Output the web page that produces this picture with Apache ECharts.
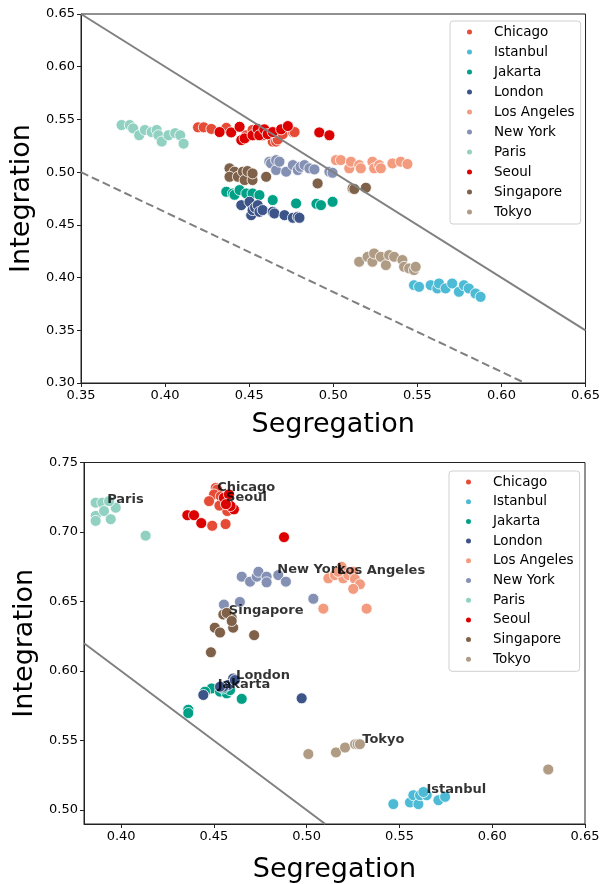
<html>
<head>
<meta charset="utf-8">
<title>Segregation vs Integration</title>
<style>
  html, body, #chart { margin: 0; padding: 0; width: 603px; height: 884px; background: #fff; }
</style>
<script src="https://cdn.jsdelivr.net/npm/echarts/dist/echarts.min.js"></script>
</head>
<body>
<div id="chart"></div>
<script>
// cities and colours (legend order)
var cities = ['Chicago', 'Istanbul', 'Jakarta', 'London', 'Los Angeles', 'New York', 'Paris', 'Seoul', 'Singapore', 'Tokyo'];
var colors = ['#E64B35', '#4DBBD5', '#00A087', '#3C5488', '#F39B7F', '#8491B4', '#91D1C2', '#DC0000', '#7E6148', '#B09C85'];

// top panel: [segregation, integration]
var chicagoTop = [[0.4196,0.5425],[0.423,0.5425],[0.4275,0.541],[0.4364,0.542],[0.4483,0.535],[0.452,0.540],[0.457,0.537],[0.458,0.535],[0.464,0.529],[0.466,0.529],[0.467,0.531],[0.470,0.536],[0.476,0.538],[0.477,0.538]];
var istanbulTop = [[0.548,0.3928],[0.551,0.3912],[0.5579,0.3928],[0.5619,0.3897],[0.5629,0.3944],[0.5668,0.3897],[0.5707,0.3944],[0.5747,0.3865],[0.5777,0.3928],[0.5806,0.3897],[0.5846,0.3849],[0.5876,0.3817]];
var jakartaTop = [[0.4364,0.4814],[0.4403,0.4798],[0.4413,0.4785],[0.4443,0.483],[0.4483,0.4798],[0.452,0.4798],[0.4561,0.4782],[0.464,0.4735],[0.4779,0.4703],[0.4900,0.4700],[0.4927,0.4687],[0.4996,0.4719]];
var londonTop = [[0.4453,0.4687],[0.4502,0.4719],[0.4512,0.4592],[0.452,0.464],[0.4535,0.4665],[0.4551,0.4687],[0.4561,0.4624],[0.458,0.464],[0.464,0.4624],[0.465,0.4608],[0.471,0.4592],[0.476,0.4567],[0.4789,0.4576],[0.4799,0.4567]];
var laTop = [[0.5016,0.5114],[0.5045,0.5114],[0.5095,0.5036],[0.5105,0.5099],[0.5154,0.5067],[0.5164,0.5036],[0.5233,0.5099],[0.5243,0.5036],[0.5273,0.5067],[0.5283,0.5036],[0.5352,0.5083],[0.5401,0.5099],[0.5441,0.5077]];
var newYorkTop = [[0.462,0.5099],[0.463,0.5083],[0.466,0.502],[0.466,0.5114],[0.468,0.5099],[0.472,0.5004],[0.476,0.5067],[0.4789,0.502],[0.4805,0.5050],[0.4829,0.5067],[0.4858,0.5036],[0.4888,0.5026],[0.4977,0.5004],[0.4996,0.4994]];
var parisTop = [[0.3741,0.5447],[0.379,0.5447],[0.381,0.5415],[0.3846,0.535],[0.388,0.540],[0.392,0.538],[0.395,0.540],[0.396,0.535],[0.398,0.529],[0.402,0.535],[0.406,0.537],[0.409,0.535],[0.411,0.527]];
var seoulTop = [[0.4324,0.538],[0.4393,0.5377],[0.4443,0.543],[0.4453,0.5304],[0.4473,0.532],[0.452,0.535],[0.455,0.541],[0.456,0.535],[0.459,0.5406],[0.461,0.536],[0.464,0.538],[0.469,0.5406],[0.473,0.5437],[0.4917,0.5377],[0.4977,0.535]];
var singaporeTop = [[0.4383,0.5036],[0.4413,0.5004],[0.4383,0.4956],[0.4433,0.4956],[0.4463,0.5004],[0.4473,0.4925],[0.4490,0.5010],[0.452,0.4925],[0.452,0.4988],[0.4601,0.4956],[0.4907,0.4893],[0.5115,0.4846],[0.5125,0.4840],[0.5194,0.4852]];
var tokyoTop = [[0.5154,0.415],[0.5204,0.4197],[0.5233,0.415],[0.5243,0.4229],[0.5283,0.4197],[0.5313,0.4118],[0.5332,0.4213],[0.5362,0.4197],[0.5411,0.4166],[0.5421,0.4102],[0.5451,0.4087],[0.548,0.4071],[0.549,0.4102]];

// bottom panel
var chicagoBot = [[0.451,0.7317],[0.4518,0.7305],[0.4501,0.727],[0.4474,0.7222],[0.4554,0.7211],[0.4537,0.7257],[0.4572,0.7151],[0.4491,0.7045],[0.4563,0.7057],[0.4530,0.7190]];
var istanbulBot = [[0.5467,0.5043],[0.5557,0.5055],[0.5575,0.5107],[0.5602,0.5043],[0.5611,0.5107],[0.5647,0.5107],[0.571,0.5071],[0.5746,0.5095],[0.5629,0.513]];
var jakartaBot = [[0.4362,0.5722],[0.4362,0.5698],[0.4488,0.5875],[0.4452,0.5852],[0.4533,0.5852],[0.4569,0.584],[0.4587,0.5863],[0.465,0.58],[0.4551,0.5875]];
var londonBot = [[0.4604,0.5946],[0.4577,0.59],[0.4551,0.5887],[0.4443,0.5828],[0.4973,0.5804],[0.4613,0.5935],[0.4533,0.5887]];
var laBot = [[0.5117,0.6667],[0.5152,0.669],[0.5188,0.675],[0.5197,0.6667],[0.5224,0.669],[0.5251,0.6714],[0.526,0.6662],[0.5287,0.6624],[0.5251,0.6591],[0.509,0.6449],[0.5323,0.6449],[0.517,0.6714]];
var newYorkBot = [[0.465,0.6679],[0.4695,0.6643],[0.4731,0.6679],[0.474,0.6714],[0.4784,0.6679],[0.4784,0.6638],[0.4847,0.669],[0.4888,0.6643],[0.5036,0.652],[0.4554,0.6478],[0.464,0.6497]];
var parisBot = [[0.3863,0.7211],[0.3863,0.7116],[0.3863,0.708],[0.3899,0.7211],[0.3908,0.7151],[0.3944,0.7092],[0.3971,0.7175],[0.3935,0.7222],[0.4132,0.6974]];
var seoulBot = [[0.4608,0.7163],[0.4572,0.7222],[0.459,0.7187],[0.4357,0.7121],[0.4393,0.7121],[0.4432,0.7064],[0.4878,0.6963],[0.4554,0.7246],[0.4581,0.727],[0.4565,0.7200]];
var singaporeBot = [[0.4551,0.6407],[0.4587,0.6395],[0.4596,0.6383],[0.4569,0.6418],[0.4505,0.6312],[0.4533,0.6277],[0.4604,0.6312],[0.4717,0.6258],[0.4484,0.6135],[0.4596,0.636]];
var tokyoBot = [[0.5009,0.5403],[0.5158,0.5415],[0.5207,0.545],[0.5261,0.5474],[0.5275,0.5474],[0.5287,0.5474],[0.6302,0.5292]];

// city name labels in bottom panel (left edge x, centre y)
var labelX = [0.4515, 0.5643, 0.4518, 0.4617, 0.5162, 0.4839, 0.3922, 0.4563, 0.4578, 0.5297];
var labelY = [0.7322, 0.5150, 0.5906, 0.5965, 0.6721, 0.6726, 0.7236, 0.7248, 0.6437, 0.5504];

// reference lines
var solidTop = [[0.35, 0.65], [0.65, 0.35]];
var dashedTop = [[0.35, 0.50], [0.614, 0.30]];
var solidBot = [[0.38, 0.62], [0.51, 0.49]];

var ticksBotX = [0.40, 0.45, 0.50, 0.55, 0.60, 0.65];
var ticksBotY = [0.50, 0.55, 0.60, 0.65, 0.70, 0.75];

var topSets = [chicagoTop, istanbulTop, jakartaTop, londonTop, laTop, newYorkTop, parisTop, seoulTop, singaporeTop, tokyoTop];
var botSets = [chicagoBot, istanbulBot, jakartaBot, londonBot, laBot, newYorkBot, parisBot, seoulBot, singaporeBot, tokyoBot];

var FONT = 'DejaVu Sans';
var fmt = function (v) { return v.toFixed(2); };

function axisBase(name, gap, isY) {
    return {
        type: 'value',
        name: name,
        nameLocation: 'middle',
        nameGap: gap,
        nameRotate: isY ? 90 : 0,
        nameTextStyle: { fontFamily: FONT, fontSize: 27, color: '#000' },
        axisLine: { show: true, onZero: false, lineStyle: { color: '#222', width: 1 } },
        axisTick: { show: true, length: 4, lineStyle: { color: '#222', width: 1 } },
        axisLabel: { fontFamily: FONT, fontSize: 13, color: '#000', margin: 6, formatter: fmt },
        splitLine: { show: false }
    };
}

var xTop = axisBase('Segregation', 28, false);
xTop.gridIndex = 0; xTop.min = 0.35; xTop.max = 0.65; xTop.interval = 0.05;
var yTop = axisBase('Integration', 42, true);
yTop.gridIndex = 0; yTop.min = 0.30; yTop.max = 0.65; yTop.interval = 0.05;

var xBot = axisBase('Segregation', 32, false);
xBot.gridIndex = 1; xBot.min = 0.38; xBot.max = 0.65;
xBot.axisTick.customValues = ticksBotX; xBot.axisLabel.customValues = ticksBotX;
var yBot = axisBase('Integration', 42, true);
yBot.gridIndex = 1; yBot.min = 0.49; yBot.max = 0.75;
yBot.axisTick.customValues = ticksBotY; yBot.axisLabel.customValues = ticksBotY;

function legendAt(left, top, gap) {
    return {
        orient: 'vertical',
        left: left,
        top: top,
        data: cities,
        icon: 'circle',
        itemWidth: 7,
        itemHeight: 7,
        itemGap: gap,
        padding: [4, 6, 5, 15],
        borderColor: '#d0d0d0',
        borderWidth: 1,
        borderRadius: 3,
        backgroundColor: 'rgba(255,255,255,0.8)',
        textStyle: { fontFamily: FONT, fontSize: 13.5, color: '#000', lineHeight: 14, padding: [0, 0, 0, 16] }
    };
}

var series = [];
cities.forEach(function (c, i) {
    [topSets[i], botSets[i]].forEach(function (d, g) {
        series.push({
            name: c,
            type: 'scatter',
            xAxisIndex: g,
            yAxisIndex: g,
            data: d,
            symbolSize: 11,
            itemStyle: { color: colors[i], borderColor: '#fff', borderWidth: 0.8, opacity: 1 }
        });
    });
});

function refLine(d, g, dashed) {
    return {
        type: 'line', xAxisIndex: g, yAxisIndex: g, data: d, symbol: 'none', z: 5,
        silent: true, clip: true,
        lineStyle: { color: '#808080', width: 2, type: dashed ? [8, 4] : 'solid' }
    };
}
series.push(refLine(solidTop, 0, false));
series.push(refLine(dashedTop, 0, true));
series.push(refLine(solidBot, 1, false));

// bold city names, anchored at their data positions
series.push({
    type: 'scatter', xAxisIndex: 1, yAxisIndex: 1, symbolSize: 1, z: 6, silent: true,
    itemStyle: { color: 'rgba(0,0,0,0)' },
    label: {
        show: true, position: 'right', distance: 0, formatter: '{b}',
        fontFamily: FONT, fontSize: 13, fontWeight: 'bold', color: '#000',
        textBorderWidth: 0
    },
    labelLayout: { hideOverlap: false },
    data: cities.map(function (c, i) { return { name: c, value: [labelX[i], labelY[i]] }; })
});

var chart = echarts.init(document.getElementById('chart'), null, { renderer: 'canvas' });
chart.setOption({
    animation: false,
    backgroundColor: '#fff',
    grid: [
        { left: 81, top: 14, width: 506, height: 369, show: true, borderColor: '#222', borderWidth: 1 },
        { left: 84, top: 462.5, width: 501, height: 366.5, show: true, borderColor: '#222', borderWidth: 1 }
    ],
    xAxis: [xTop, xBot],
    yAxis: [yTop, yBot],
    legend: [legendAt(450, 21, 6), legendAt(449, 471, 5.7)],
    series: series
});
</script>
</body>
</html>
